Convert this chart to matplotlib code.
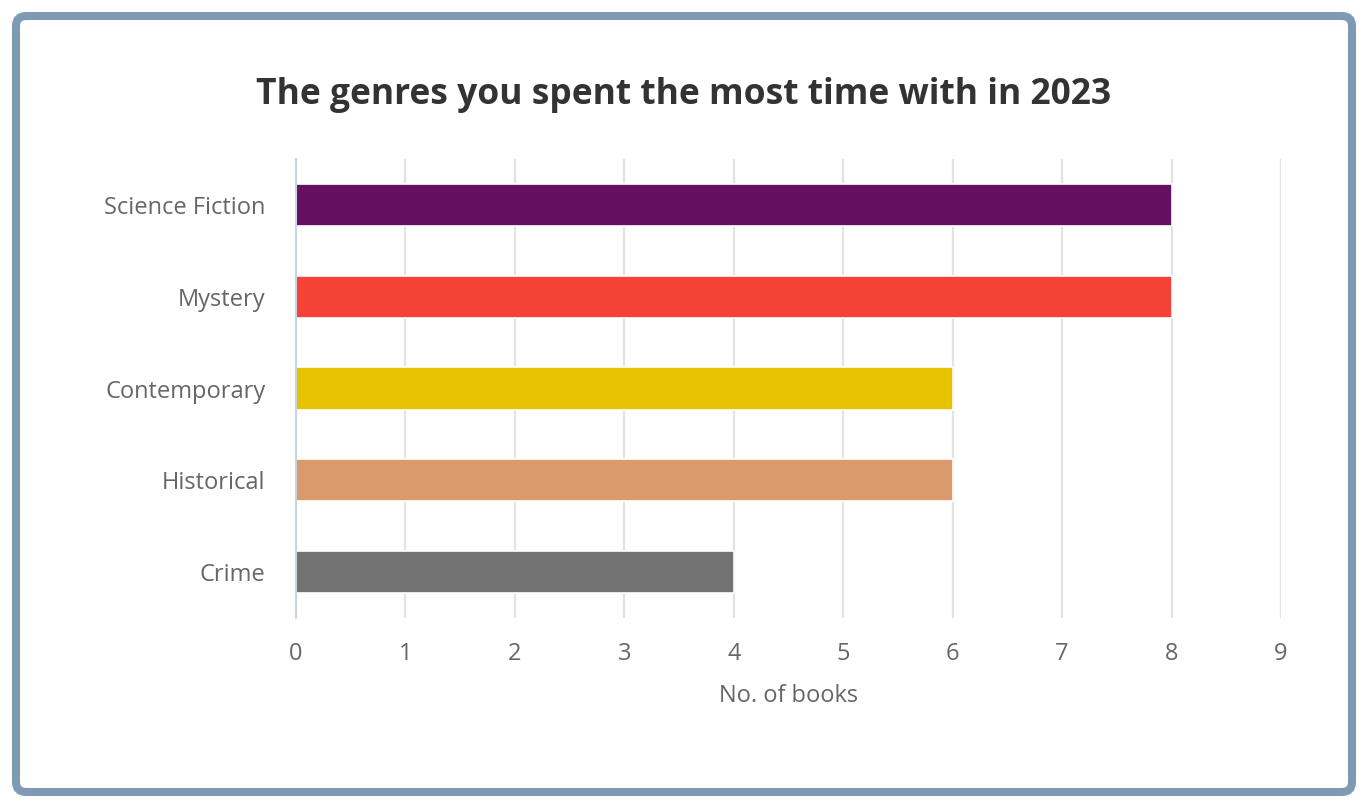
import matplotlib
matplotlib.use("Agg")
import matplotlib.pyplot as plt
from matplotlib.patches import FancyBboxPatch

genres = ["Science Fiction", "Mystery", "Contemporary", "Historical", "Crime"]
books = [8, 8, 6, 6, 4]
colors = ["#641060", "#f44336", "#e6c200", "#d99b6b", "#737373"]
x_ticks = list(range(0, 10))

plt.rcParams['font.family'] = ['Open Sans', 'DejaVu Sans']

fig = plt.figure(figsize=(13.68, 8.08), dpi=100)
fig.patch.set_facecolor("white")

# rounded frame around the card
frame = FancyBboxPatch((0.16, 0.16), 13.36, 7.76,
                       boxstyle="round,pad=0,rounding_size=0.1",
                       transform=fig.dpi_scale_trans,
                       facecolor="none", edgecolor="#7f9ab3", linewidth=5.8)
fig.patches.append(frame)

ax = fig.add_axes([0.2164, 0.2351, 0.72, 0.5681])

ypos = list(range(len(genres)))
ax.barh(ypos, books, height=0.46, color=colors, edgecolor="white",
        linewidth=1.2, zorder=3)

ax.set_xlim(0, 9)
ax.set_ylim(len(genres) - 0.5, -0.5)
ax.set_xticks(x_ticks)
ax.set_yticks(ypos)
ax.set_yticklabels(genres)

ax.grid(axis="x", color="#e3e3e3", linewidth=1.6, zorder=0)
ax.set_axisbelow(True)
for side in ["top", "right", "bottom"]:
    ax.spines[side].set_visible(False)
ax.spines["left"].set_color("#c8d3e3")
ax.spines["left"].set_linewidth(1.5)
ax.spines["left"].set_zorder(4)

ax.tick_params(axis="both", length=0, labelsize=17, labelcolor="#666666")
ax.tick_params(axis="x", pad=17)
ax.tick_params(axis="y", pad=22)

ax.set_xlabel("No. of books", fontsize=17, color="#666666", labelpad=13)

fig.text(0.5, 1 - 95 / 808, "The genres you spent the most time with in 2023",
         ha="center", va="center", fontsize=25.5, fontweight="bold",
         color="#333333")

fig.savefig("out.png", dpi=100)
